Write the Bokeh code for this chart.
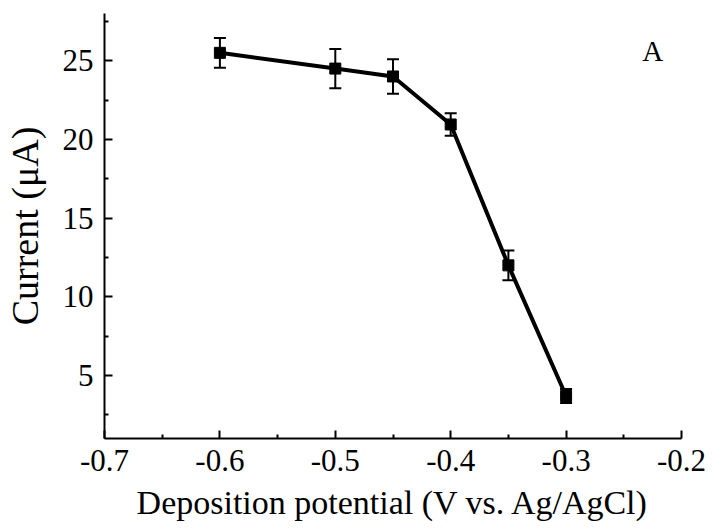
from bokeh.plotting import figure
from bokeh.models import ColumnDataSource, Whisker, TeeHead, FixedTicker, Label
from bokeh.embed import file_html
from bokeh.resources import INLINE

# Data
potential = [-0.6, -0.5, -0.45, -0.4, -0.35, -0.3]
current = [25.5, 24.5, 24.0, 20.95, 12.0, 3.7]
error = [0.95, 1.25, 1.1, 0.72, 0.95, 0.45]

x_ticks = [-0.7, -0.6, -0.5, -0.4, -0.3, -0.2]
x_tick_labels = ["-0.7", "-0.6", "-0.5", "-0.4", "-0.3", "-0.2"]
x_minor = [-0.65, -0.55, -0.45, -0.35, -0.25]
y_ticks = [5, 10, 15, 20, 25]
y_minor = [2.5, 7.5, 12.5, 17.5, 22.5, 27.5]

FONT = "Liberation Serif"

src = ColumnDataSource(data=dict(
    x=potential,
    y=current,
    upper=[c + e for c, e in zip(current, error)],
    lower=[c - e for c, e in zip(current, error)],
))

p = figure(width=713, height=528, x_range=(-0.7, -0.2), y_range=(1, 28),
           output_backend="svg", toolbar_location=None,
           min_border_left=102, min_border_right=32,
           min_border_top=13, min_border_bottom=90)
p.outline_line_color = None
p.xgrid.visible = False
p.ygrid.visible = False
p.background_fill_color = "white"
p.border_fill_color = "white"

p.xaxis.ticker = FixedTicker(ticks=x_ticks, minor_ticks=x_minor)
p.yaxis.ticker = FixedTicker(ticks=y_ticks, minor_ticks=y_minor)
p.xaxis.major_label_overrides = dict(zip(x_ticks, x_tick_labels))

for ax in (p.xaxis[0], p.yaxis[0]):
    ax.axis_line_width = 2
    ax.axis_line_color = "black"
    ax.major_tick_in = 8
    ax.major_tick_out = 0
    ax.minor_tick_in = 4
    ax.minor_tick_out = 0
    ax.major_tick_line_width = 2
    ax.minor_tick_line_width = 2
    ax.major_tick_line_color = "black"
    ax.minor_tick_line_color = "black"
    ax.major_label_text_font = FONT
    ax.major_label_text_font_size = "31px"
    ax.major_label_text_color = "black"
    ax.axis_label_text_font = FONT
    ax.axis_label_text_font_style = "normal"
    ax.axis_label_text_color = "black"

xa = p.xaxis[0]
ya = p.yaxis[0]
xa.axis_label = "Deposition potential (V vs. Ag/AgCl)"
ya.axis_label = "Current (\u03bcA)"
xa.axis_label_text_font_size = "34px"
ya.axis_label_text_font_size = "38px"
xa.major_label_standoff = 11
ya.major_label_standoff = 11
xa.axis_label_standoff = 10
ya.axis_label_standoff = 14

p.line("x", "y", source=src, line_width=4, line_color="black")
p.add_layout(Whisker(source=src, base="x", upper="upper", lower="lower",
                     line_width=2, line_color="black",
                     upper_head=TeeHead(size=12, line_width=2, line_color="black"),
                     lower_head=TeeHead(size=12, line_width=2, line_color="black")))
p.scatter("x", "y", source=src, marker="square", size=11,
          fill_color="black", line_color="black")

p.add_layout(Label(x=-0.225, y=25.6, text="A", text_font=FONT,
                   text_font_size="29px", text_align="center",
                   text_baseline="alphabetic", text_color="black"))

open("out.html", "w").write(file_html(p, INLINE))
